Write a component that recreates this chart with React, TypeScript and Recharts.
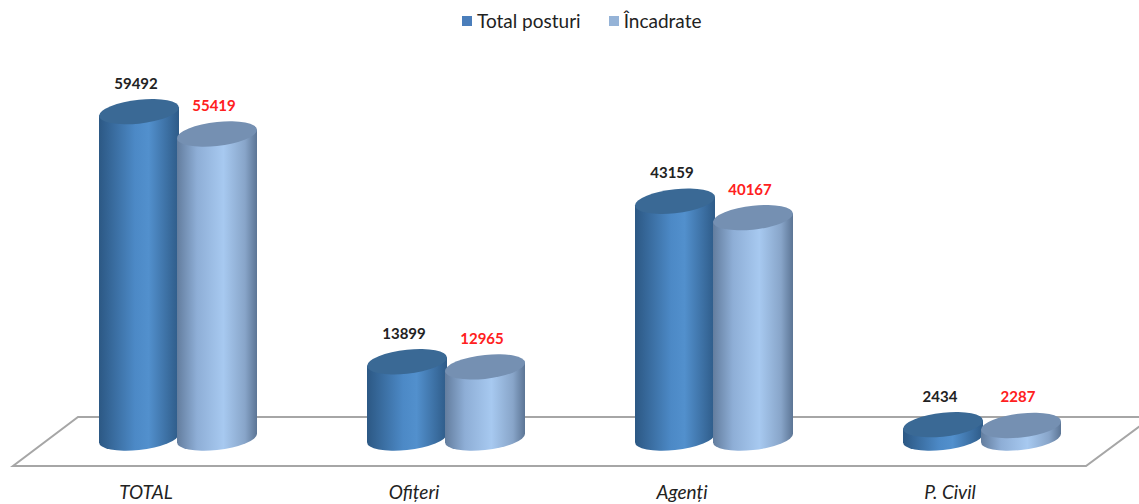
import { BarChart, Bar, XAxis, YAxis, Legend, LabelList } from "recharts";

const categories = ["TOTAL", "Ofițeri", "Agenți", "P. Civil"];
const totalPosturi = [59492, 13899, 43159, 2434];
const incadrate = [55419, 12965, 40167, 2287];

const data = categories.map((name, i) => ({
  name,
  total: totalPosturi[i],
  incadrate: incadrate[i],
}));

const W = 1139;
const H = 504;
const margin = { top: 31, right: 23, bottom: 0, left: 44 };
const font = "Lato, 'Open Sans', sans-serif";

function makeCylinder(gradId: string, topFill: string) {
  return (props: any) => {
    const { x, y, width, height } = props;
    if (width == null || height == null) return null;
    const rx = width / 2;
    const ry = width * 0.15;
    const cx = x + rx;
    const bottom = y + height;
    const d = `M${x},${y} L${x},${bottom} A${rx},${ry} 0 0 0 ${x + width},${bottom} L${x + width},${y} Z`;
    return (
      <g transform={`translate(${cx},${bottom}) skewY(-6) translate(${-cx},${-bottom})`}>
        <path d={d} fill={`url(#${gradId})`} />
        <ellipse cx={cx} cy={y} rx={rx} ry={ry} fill={topFill} />
      </g>
    );
  };
}

const darkCyl = makeCylinder("gDark", "#3a6995");
const lightCyl = makeCylinder("gLight", "#7590b2");

function valueLabel(color: string) {
  return (props: any) => {
    const { x, y, width, value } = props;
    return (
      <text
        x={x + width / 2 - 3}
        y={y - 23}
        textAnchor="middle"
        fontFamily={font}
        fontWeight={700}
        fontSize={15}
        fill={color}
      >
        {value}
      </text>
    );
  };
}

const Tick = (props: any) => {
  const { x, y, payload } = props;
  return (
    <text
      x={x - 32}
      y={y + 61}
      textAnchor="middle"
      fontFamily={font}
      fontStyle="italic"
      fontSize={19}
      fill="#222"
    >
      {payload.value}
    </text>
  );
};

const LegendContent = (props: any) => {
  const { payload } = props;
  return (
    <div style={{ display: "flex", alignItems: "center", gap: 28, fontFamily: font, fontSize: 19, color: "#222" }}>
      {(payload || []).map((p: any) => (
        <div key={p.value} style={{ display: "flex", alignItems: "center", gap: 5 }}>
          <span style={{ display: "inline-block", width: 10, height: 10, background: p.color }} />
          <span>{p.value}</span>
        </div>
      ))}
    </div>
  );
};

export default function App() {
  return (
    <div style={{ position: "absolute", left: 0, top: 0, width: W, height: H, background: "#fff" }}>
      <svg width={W} height={H} style={{ position: "absolute", left: 0, top: 0 }}>
        <polygon
          points="78,417 1152,417 1086,466 13,466"
          fill="#fff"
          stroke="#a6a6a6"
          strokeWidth={2}
        />
      </svg>
      <div style={{ position: "absolute", left: 0, top: 0 }}>
        <BarChart width={W} height={H} data={data} margin={margin} barSize={80} barGap={-2}>
          <defs>
            <linearGradient id="gDark" x1="0" y1="0" x2="1" y2="0">
              <stop offset="0%" stopColor="#2c5884" />
              <stop offset="45%" stopColor="#4c89c6" />
              <stop offset="62%" stopColor="#5290cd" />
              <stop offset="100%" stopColor="#2e5b88" />
            </linearGradient>
            <linearGradient id="gLight" x1="0" y1="0" x2="1" y2="0">
              <stop offset="0%" stopColor="#637d9e" />
              <stop offset="25%" stopColor="#8eaed6" />
              <stop offset="58%" stopColor="#a7c9f0" />
              <stop offset="85%" stopColor="#88a5c9" />
              <stop offset="100%" stopColor="#5c7595" />
            </linearGradient>
          </defs>
          <Legend
            verticalAlign="top"
            content={<LegendContent />}
            wrapperStyle={{ top: 9, left: 462, width: "auto" }}
          />
          <XAxis
            dataKey="name"
            axisLine={false}
            tickLine={false}
            tickSize={0}
            tickMargin={0}
            height={66}
            tick={<Tick />}
            interval={0}
          />
          <YAxis hide domain={[0, 70000]} />
          <Bar
            dataKey="total"
            name="Total posturi"
            fill="#4a7ebb"
            shape={darkCyl}
            isAnimationActive={false}
          >
            <LabelList dataKey="total" content={valueLabel("#222")} />
          </Bar>
          <Bar
            dataKey="incadrate"
            name="Încadrate"
            fill="#95b3d7"
            shape={lightCyl}
            isAnimationActive={false}
          >
            <LabelList dataKey="incadrate" content={valueLabel("#ff2020")} />
          </Bar>
        </BarChart>
      </div>
    </div>
  );
}
